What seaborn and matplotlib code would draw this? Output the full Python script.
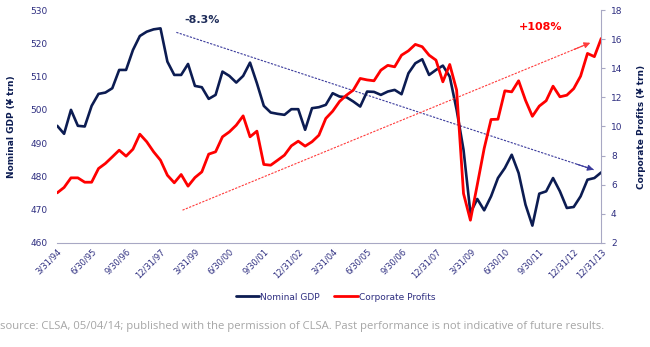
import matplotlib
matplotlib.use("Agg")
import matplotlib.pyplot as plt
import pandas as pd
import seaborn as sns
from matplotlib.lines import Line2D

# ---------------- data (quarterly, Q1 1994 .. Q4 2013) ----------------
quarters = list(range(80))
gdp = [495.2, 492.8, 500.0, 495.2, 495.0, 501.2, 504.8, 505.2, 506.5, 512.0,
       512.0, 518.0, 522.2, 523.5, 524.2, 524.5, 514.5, 510.5, 510.5, 513.8,
       507.2, 506.8, 503.3, 504.5, 511.5, 510.2, 508.2, 510.2, 514.2, 508.0,
       501.2, 499.2, 498.8, 498.5, 500.2, 500.2, 494.0, 500.5, 500.8, 501.5,
       505.0, 504.0, 503.8, 502.5, 501.0, 505.5, 505.4, 504.5, 505.5, 506.0,
       504.7, 511.0, 514.0, 515.2, 510.5, 512.0, 513.3, 510.0, 500.0, 488.0,
       469.0, 473.2, 469.8, 474.0, 479.5, 482.5, 486.5, 481.0, 471.5, 465.2,
       474.8, 475.5, 479.5, 475.5, 470.5, 470.8, 474.0, 479.0, 479.5, 481.2]
profits = [5.44, 5.81, 6.47, 6.47, 6.17, 6.17, 7.11, 7.46, 7.91, 8.37,
           7.96, 8.44, 9.47, 8.95, 8.26, 7.68, 6.65, 6.13, 6.70, 5.90,
           6.49, 6.88, 8.10, 8.26, 9.29, 9.63, 10.09, 10.73, 9.29, 9.68,
           7.39, 7.34, 7.68, 8.03, 8.67, 8.99, 8.65, 8.95, 9.40, 10.55,
           11.05, 11.72, 12.15, 12.50, 13.30, 13.20, 13.14, 13.87, 14.20, 14.10,
           14.90, 15.20, 15.64, 15.48, 14.90, 14.56, 13.07, 14.26, 12.50, 5.39,
           3.56, 6.00, 8.49, 10.48, 10.50, 12.45, 12.38, 13.14, 11.80, 10.70,
           11.40, 11.77, 12.77, 12.04, 12.15, 12.60, 13.46, 15.02, 14.80, 16.05]
tick_pos = [0, 5, 10, 15, 20, 25, 30, 35, 40, 45, 50, 55, 60, 65, 70, 75, 79]
tick_labels = ["3/31/94", "6/30/95", "9/30/96", "12/31/97", "3/31/99", "6/30/00",
               "9/30/01", "12/31/02", "3/31/04", "6/30/05", "9/30/06", "12/31/07",
               "3/31/09", "6/30/10", "9/30/11", "12/31/12", "12/31/13"]
gdp_trend_x = [17.3, 77.9]
gdp_trend_y = [523.3, 482.0]
cp_trend_x = [18.2, 77.4]
cp_trend_y = [4.25, 15.75]
gdp_ticks = [460, 470, 480, 490, 500, 510, 520, 530]
cp_ticks = [2, 4, 6, 8, 10, 12, 14, 16, 18]

NAVY = "#0c1c52"
TXT = "#2e2e80"
RED = "#ff0000"
SPINE = "#a8a8c4"

sns.set_style("white")
plt.rcParams["font.family"] = ["DejaVu Sans"]

fig = plt.figure(figsize=(6.5, 3.47), dpi=100)
ax = fig.add_axes([0.088, 0.30, 0.837, 0.671])
ax2 = ax.twinx()

df = pd.DataFrame({"q": quarters, "gdp": gdp, "cp": profits})
sns.lineplot(data=df, x="q", y="gdp", ax=ax, color=NAVY, lw=1.9, legend=False)
sns.lineplot(data=df, x="q", y="cp", ax=ax2, color=RED, lw=2.0, legend=False)

# trend arrows
def trend(axis, xs, ys, color):
    axis.plot(xs, ys, color=color, lw=0.8, ls=(0, (2, 1.2)), zorder=1)
    hx = xs[1] - 0.04 * (xs[1] - xs[0])
    hy = ys[1] - 0.04 * (ys[1] - ys[0])
    axis.annotate("", xy=(xs[1], ys[1]), xytext=(hx, hy),
                  arrowprops=dict(arrowstyle="-|>", color=color, lw=0.8,
                                  mutation_scale=9, shrinkA=0, shrinkB=0))

trend(ax, gdp_trend_x, gdp_trend_y, "#3b3b9c")
trend(ax2, cp_trend_x, cp_trend_y, "#ff3b3b")

ax.text(21.1, 527.0, "-8.3%", color="#1f2d5a", fontsize=8, fontweight="bold",
        ha="center", va="center")
ax2.text(70.2, 16.83, "+108%", color=RED, fontsize=8, fontweight="bold",
         ha="center", va="center")

ax.set_xlim(0, 79)
ax.set_ylim(460, 530)
ax2.set_ylim(2, 18)
ax.set_yticks(gdp_ticks)
ax2.set_yticks(cp_ticks)
ax.set_xticks(tick_pos)
ax.set_xticklabels(tick_labels, rotation=45, ha="right", rotation_mode="anchor")

for a in (ax, ax2):
    for s in a.spines.values():
        s.set_visible(False)
    a.set_xlabel("")
ax.spines["bottom"].set_visible(True)
ax.spines["bottom"].set_color(SPINE)
ax2.spines["right"].set_visible(True)
ax2.spines["right"].set_color(SPINE)

ax.tick_params(axis="x", length=0, pad=3, labelsize=6, labelcolor=TXT)
ax.tick_params(axis="y", length=0, pad=7, labelsize=6.5, labelcolor=TXT)
ax2.tick_params(axis="y", length=3, width=0.8, color=SPINE, pad=4,
                labelsize=6.5, labelcolor=TXT, direction="out")

ax.set_ylabel("Nominal GDP (\u00a5 trn)", fontsize=6.5, fontweight="bold", color=NAVY)
ax.yaxis.set_label_coords(-0.076, 0.5)
ax2.set_ylabel("Corporate Profits (\u00a5 trn)", fontsize=6.5, fontweight="bold", color=NAVY)
ax2.yaxis.set_label_coords(1.066, 0.5)

handles = [Line2D([], [], color=NAVY, lw=2), Line2D([], [], color=RED, lw=2)]
fig.legend(handles, ["Nominal GDP", "Corporate Profits"], loc="center",
           bbox_to_anchor=(0.516, 0.144), ncol=2, frameon=False, fontsize=6.5,
           labelcolor=TXT, handlelength=2.6, handletextpad=0.1, columnspacing=1.6)

fig.text(0.0, 0.06, "source: CLSA, 05/04/14; published with the permission of CLSA. "
         "Past performance is not indicative of future results.",
         fontsize=8.1, color="#a6a6a6", family=["Open Sans", "DejaVu Sans"],
         ha="left", va="center")

fig.savefig("out.png", dpi=100)
